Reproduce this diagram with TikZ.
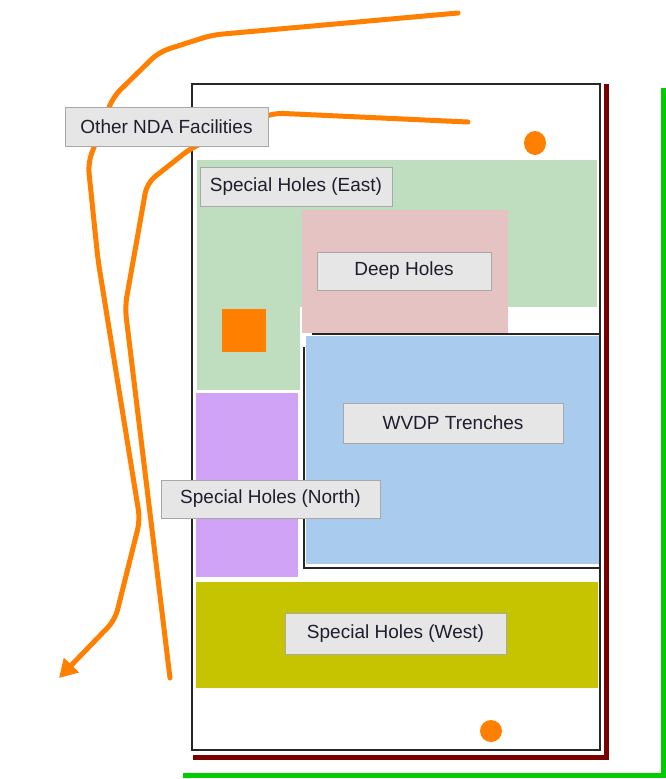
\documentclass[tikz,border=0pt]{standalone}
\usepackage{fontspec}
\setmainfont{Liberation Sans}
\usetikzlibrary{arrows.meta}
\definecolor{eastgreen}{HTML}{BFDDBF}
\definecolor{deeppink}{HTML}{E5C3C3}
\definecolor{wvdpblue}{HTML}{A9CBEE}
\definecolor{northpurple}{HTML}{D1A3F7}
\definecolor{westolive}{HTML}{C6C400}
\definecolor{orng}{HTML}{FF8000}
\definecolor{darkred}{HTML}{7A0000}
\definecolor{brightgreen}{HTML}{00CC00}
\definecolor{lblfill}{HTML}{E6E6E6}
\definecolor{lblborder}{HTML}{A8A8A8}
\definecolor{lbltext}{HTML}{1E1E2E}
\begin{document}
\begin{tikzpicture}[x=1pt,y=-1pt,
  lbl/.style={draw=lblborder, fill=lblfill, line width=1pt, text=lbltext,
    font=\fontsize{19}{21}\selectfont, inner sep=0pt},
  route/.style={draw=orng, line width=5pt, line join=round, line cap=round, rounded corners=10pt},
  outline/.style={draw=black!85, line width=1.6pt}]
\useasboundingbox[fill=white] (0,0) rectangle (666,779);
% fills
\fill[eastgreen] (197,160) rectangle (597,307);
\fill[eastgreen] (197,160) rectangle (300,390);
\fill[deeppink] (302,210) rectangle (508,333);
\fill[wvdpblue] (306,336) rectangle (599,564);
\fill[northpurple] (196,393) rectangle (298,577);
\fill[westolive] (196,582) rectangle (598,688);
% outlines
\draw[outline] (192,84) rectangle (600,750);
\draw[outline] (600,334) -- (312,334);
\draw[outline] (304,347) -- (304,568) -- (601,568);
\draw[darkred, line width=5pt] (606,84) -- (606,757) -- (193,757);
\draw[brightgreen, line width=5pt] (663,88) -- (663,775) -- (183,775);
% orange markers
\fill[orng] (222,309) rectangle (266,352);
\fill[orng] (535,143) ellipse [x radius=11, y radius=12];
\fill[orng] (491,731) ellipse [x radius=11, y radius=11];
% routes
\coordinate (a0) at (458,13);
\coordinate (a1) at (212,35);
\coordinate (a2) at (159,52);
\coordinate (a3) at (113,97);
\coordinate (a4) at (88,163);
\coordinate (a5) at (98,260);
\coordinate (a6) at (140,520);
\coordinate (a7) at (115,620);
\coordinate (a8) at (59,678);
\coordinate (b0) at (468,122);
\coordinate (b1) at (273,113);
\coordinate (b2) at (191,148);
\coordinate (b3) at (147,183);
\coordinate (b4) at (125,307);
\coordinate (b5) at (170,678);
\draw[route, -{Triangle[width=20pt,length=18pt]}] (a0) -- (a1) -- (a2) -- (a3) -- (a4) -- (a5) -- (a6) -- (a7) -- (a8);
\draw[route] (b0) -- (b1) -- (b2) -- (b3) -- (b4) -- (b5);
% labels
\node[lbl, minimum width=203pt, minimum height=39pt] (other) at (166.5,126.5) {Other NDA Facilities};
\node[lbl, minimum width=192pt, minimum height=39pt] (east) at (296,186.5) {Special Holes (East)};
\node[lbl, minimum width=174pt, minimum height=38pt] (deep) at (404,271) {Deep Holes};
\node[lbl, minimum width=220pt, minimum height=40pt] (wvdp) at (453,423) {WVDP Trenches};
\node[lbl, minimum width=219pt, minimum height=38pt] (north) at (270.5,499) {Special Holes (North)};
\node[lbl, minimum width=221pt, minimum height=41pt] (west) at (395.5,633.5) {Special Holes (West)};
\end{tikzpicture}
\end{document}
